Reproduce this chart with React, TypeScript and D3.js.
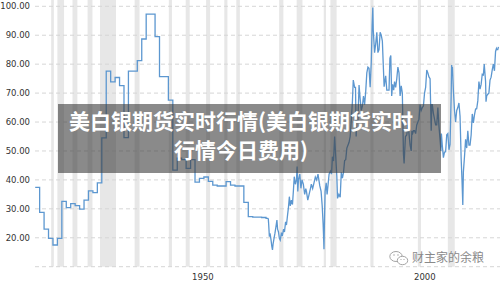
import React from "react";
import * as d3 from "d3";

const W = 500;
const H = 281;

// Annual (stepped) series, 1915-1967
const annualYears = [
  1915, 1916, 1917, 1918, 1919, 1920, 1921, 1922, 1923, 1924, 1925, 1926, 1927, 1928, 1929,
  1930, 1931, 1932, 1933, 1934, 1935, 1936, 1937, 1938, 1939, 1940, 1941, 1942, 1943, 1944,
  1945, 1946, 1947, 1948, 1949, 1950, 1951, 1952, 1953, 1954, 1955, 1956, 1957, 1958, 1959,
  1960, 1961, 1962, 1963, 1964, 1965, 1966, 1967,
];
const annualValues = [
  37.4, 28.8, 23.0, 19.8, 17.5, 19.8, 32.6, 30.4, 31.8, 31.1, 29.9, 33.0, 36.2, 35.6, 39.0,
  54.5, 77.6, 73.9, 75.4, 72.6, 54.6, 77.6, 77.6, 81.2, 88.7, 97.3, 97.3, 89.5, 75.7, 75.7,
  67.6, 43.4, 47.5, 47.0, 44.0, 47.0, 39.2, 40.5, 41.0, 39.5, 38.2, 37.9, 37.9, 39.4, 38.2,
  37.9, 37.9, 32.2, 27.3, 27.1, 27.1, 27.0, 26.7,
];

// Sub-annual series, mid 1967 onward (decimal years)
const lateYears = [
  1967.5, 1967.6, 1967.75, 1967.9, 1968.1, 1968.3, 1968.45, 1968.6, 1968.8, 1969.0, 1969.2,
  1969.45, 1969.6, 1969.8, 1970.0, 1970.2, 1970.45, 1970.7, 1970.95, 1971.15, 1971.4, 1971.6,
  1971.85, 1972.05, 1972.25, 1972.45, 1972.7, 1972.95, 1973.15, 1973.35, 1973.6, 1973.85,
  1974.0, 1974.15, 1974.3, 1974.6, 1974.85, 1975.1, 1975.4, 1975.7, 1975.95, 1976.1, 1976.4,
  1976.7, 1977.0, 1977.2, 1977.5, 1977.8, 1978.1, 1978.4, 1978.7, 1979.1, 1979.4, 1979.65,
  1979.85, 1979.97, 1980.05, 1980.15, 1980.3, 1980.55, 1980.75, 1980.95, 1981.2, 1981.5, 1981.75,
  1981.95, 1982.2, 1982.45, 1982.7, 1982.95, 1983.1, 1983.4, 1983.7, 1983.95, 1984.2, 1984.45,
  1984.7, 1984.95, 1985.2, 1985.45, 1985.7, 1985.95, 1986.2, 1986.45, 1986.65, 1986.95, 1987.15,
  1987.3, 1987.45, 1987.7, 1987.95, 1988.2, 1988.45, 1988.7, 1988.95, 1989.2, 1989.45, 1989.7,
  1989.95, 1990.2, 1990.45, 1990.7, 1990.9, 1991.05, 1991.15, 1991.45, 1991.7, 1991.95, 1992.2,
  1992.45, 1992.7, 1992.95, 1993.2, 1993.4, 1993.6, 1993.95, 1994.2, 1994.45, 1994.7, 1994.9,
  1995.1, 1995.3, 1995.5, 1995.75, 1995.95, 1996.2, 1996.45, 1996.7, 1996.95, 1997.2, 1997.45,
  1997.7, 1997.95, 1998.1, 1998.4, 1998.7, 1998.95, 1999.2, 1999.45, 1999.7, 1999.85, 1999.95,
  2000.2, 2000.45, 2000.7, 2000.95, 2001.2, 2001.45, 2001.7, 2001.95, 2002.2, 2002.45, 2002.7,
  2002.95, 2003.2, 2003.45, 2003.7, 2003.95, 2004.2, 2004.35, 2004.45, 2004.7, 2004.95, 2005.2,
  2005.45, 2005.7, 2005.95, 2006.2, 2006.4, 2006.5, 2006.7, 2006.95, 2007.2, 2007.45, 2007.7,
  2007.95, 2008.2, 2008.45, 2008.7, 2008.8, 2008.9, 2008.98, 2009.2, 2009.45, 2009.7, 2009.95,
  2010.2, 2010.45, 2010.7, 2010.95, 2011.15, 2011.32, 2011.45, 2011.7, 2011.95, 2012.2, 2012.45,
  2012.7, 2012.95, 2013.2, 2013.45, 2013.7, 2013.95, 2014.2, 2014.45, 2014.7, 2014.95, 2015.2,
  2015.45, 2015.7, 2015.95, 2016.15, 2016.45, 2016.55, 2016.7, 2016.95, 2017.2, 2017.45, 2017.7,
  2017.95, 2018.2, 2018.45, 2018.7, 2018.9, 2019.0, 2019.2, 2019.35,
];
const lateValues = [
  26.7, 24.5, 20.4, 21.5, 19.5, 17.0, 15.8, 18.0, 19.8, 21.5, 23.5,
  26.1, 23.0, 22.0, 19.8, 19.2, 21.5, 21.0, 23.0, 22.0, 25.5, 24.4,
  27.9, 30.5, 34.2, 31.0, 33.0, 31.5, 36.0, 41.1, 38.5, 40.0,
  44.6, 36.0, 40.0, 42.0, 37.1, 40.0, 38.5, 35.0, 37.0, 36.0, 33.0,
  35.0, 37.0, 38.5, 37.0, 39.0, 41.0, 40.0, 42.0, 38.0, 36.0, 31.0,
  25.0, 20.0, 16.0, 25.0, 36.0, 39.0, 35.0, 38.0, 42.0, 43.0, 42.0,
  48.0, 46.5, 55.0, 48.0, 41.0, 33.6, 35.0, 34.0, 42.6, 40.6, 42.6,
  46.7, 47.0, 51.0, 52.0, 53.0, 55.0, 60.5, 67.0, 74.5, 72.0, 72.0,
  55.0, 62.0, 60.5, 72.8, 68.0, 64.0, 65.5, 69.0, 66.0, 70.5, 77.0,
  79.0, 78.6, 72.0, 80.6, 93.5, 99.6, 91.8, 84.0, 87.0, 91.0, 84.0,
  85.0, 91.0, 90.0, 88.0, 80.0, 72.2, 76.0, 71.0, 71.0, 71.0, 82.0,
  83.0, 69.0, 73.0, 71.0, 74.0, 72.0, 75.0, 79.0, 77.0, 69.0, 72.5,
  70.0, 49.0, 45.7, 55.0, 55.5, 59.0, 56.0, 52.0, 50.0, 57.0, 55.7,
  57.0, 57.0, 56.0, 59.0, 60.0, 61.0, 66.0, 64.0, 65.0, 65.5, 70.0,
  72.0, 78.0, 77.0, 75.6, 75.0, 57.0, 66.0, 66.0, 63.0, 61.0, 59.0,
  59.0, 65.0, 58.6, 54.0, 50.0, 56.0, 52.0, 47.7, 49.6, 49.7, 55.6,
  56.0, 50.4, 52.3, 69.0, 79.7, 78.0, 79.0, 71.0, 64.0, 60.0, 64.0,
  65.0, 66.6, 62.0, 47.4, 39.5, 31.3, 42.7, 48.0, 54.0, 51.0, 57.0,
  52.0, 52.0, 55.5, 62.8, 59.7, 62.5, 64.5, 64.6, 67.3, 74.0, 71.4,
  73.0, 76.5, 76.3, 80.0, 74.0, 67.0, 69.0, 69.6, 70.0, 74.5, 75.5,
  78.0, 80.0, 77.7, 84.4, 85.4, 85.0, 85.0, 86.0,
];

// Recession bands (decimal years)
const recessionStarts = [
  1918.6, 1920.0, 1923.4, 1926.8, 1929.6, 1937.4, 1945.1, 1948.9, 1953.5, 1957.6, 1960.3,
  1969.95, 1973.9, 1980.0, 1981.5, 1990.5, 2001.2, 2007.95,
];
const recessionEnds = [
  1919.2, 1921.5, 1924.5, 1927.9, 1933.2, 1938.5, 1945.8, 1949.8, 1954.4, 1958.3, 1961.1,
  1970.9, 1975.2, 1980.5, 1982.9, 1991.2, 2001.9, 2009.5,
];

const yTicks = [10, 20, 30, 40, 50, 60, 70, 80, 90, 100];
const xTickYears = [1950, 2000];
const titleLines = ["美白银期货实时行情(美白银期货实时", "行情今日费用)"];
const watermark = "财主家的余粮";

export default function App() {
  const x = d3.scaleLinear().domain([1915, 2019.7]).range([35.2, 500]);
  const y = d3.scaleLinear().domain([10, 100]).range([266.7, 6.3]);

  const annual = annualYears.map((yr, i) => ({ t: yr, v: annualValues[i] }));
  annual.push({ t: lateYears[0], v: lateValues[0] });
  const late = lateYears.map((t, i) => ({ t, v: lateValues[i] }));

  const stepLine = d3
    .line<{ t: number; v: number }>()
    .x((d) => x(d.t))
    .y((d) => y(d.v))
    .curve(d3.curveStepAfter);
  const linLine = d3
    .line<{ t: number; v: number }>()
    .x((d) => x(d.t))
    .y((d) => y(d.v));

  const font = "'DejaVu Sans', Verdana, sans-serif";

  return (
    <svg
      width={W}
      height={H}
      style={{ position: "absolute", left: 0, top: 0, background: "#fff" }}
    >
      {recessionStarts.map((s, i) => (
        <rect
          key={"r" + i}
          x={x(s)}
          y={0}
          width={x(recessionEnds[i]) - x(s)}
          height={y(10) - 0}
          fill="#e7e7e7"
        />
      ))}
      {yTicks.map((t) => (
        <line
          key={"g" + t}
          x1={35}
          x2={W}
          y1={y(t)}
          y2={y(t)}
          stroke="#d6d6d6"
          strokeWidth={1}
          strokeDasharray="4,3"
        />
      ))}
      {yTicks
        .filter((t) => t >= 20)
        .map((t) => (
          <text
            key={"yl" + t}
            x={30}
            y={y(t)}
            dy="0.35em"
            textAnchor="end"
            fontSize={8.5}
            fill="#333"
            fontFamily={font}
          >
            {t.toFixed(2)}
          </text>
        ))}
      {xTickYears.map((t) => (
        <text
          key={"xl" + t}
          x={x(t) + 1.5}
          y={279.5}
          fontSize={8.5}
          fill="#333"
          fontFamily={font}
        >
          {t}
        </text>
      ))}
      <path d={stepLine(annual) || ""} fill="none" stroke="#5c97d0" strokeWidth={1.3} />
      <path d={linLine(late) || ""} fill="none" stroke="#5c97d0" strokeWidth={1.3} />

      <rect x={58} y={104} width={383} height={69} fill="rgba(60,60,60,0.6)" />
      {titleLines.map((s, i) => (
        <text
          key={"t" + i}
          x={241}
          y={121 + i * 29}
          dy="0.36em"
          textAnchor="middle"
          fontSize={21}
          fontWeight={700}
          fill="#fff"
          fontFamily="'Noto Sans CJK SC', sans-serif"
        >
          {s}
        </text>
      ))}

      <g stroke="#9a9a9a" strokeWidth={0.9} fill="#fff">
        <ellipse cx={396} cy={256.5} rx={6.2} ry={5} />
        <ellipse cx={402.5} cy={260.5} rx={5.2} ry={4.2} />
      </g>
      <g fill="#9a9a9a">
        <circle cx={394} cy={255} r={0.7} />
        <circle cx={398} cy={255} r={0.7} />
        <circle cx={401} cy={259.5} r={0.6} />
        <circle cx={404} cy={259.5} r={0.6} />
      </g>
      <text
        x={412}
        y={258}
        dy="0.36em"
        fontSize={12}
        fill="#8a8a8a"
        fontFamily="'Noto Sans CJK SC', sans-serif"
      >
        {watermark}
      </text>
    </svg>
  );
}
